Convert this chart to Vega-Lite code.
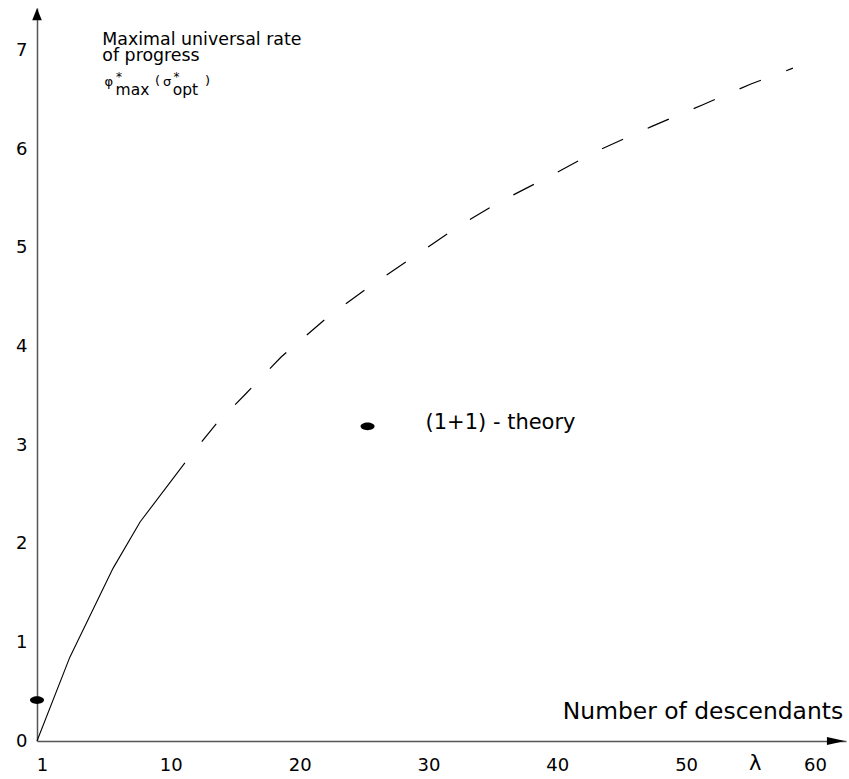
{
  "$schema": "https://vega.github.io/schema/vega-lite/v6.json",
  "autosize": "none",
  "padding": {"left": 37, "top": 8, "right": 3, "bottom": 38},
  "width": 809,
  "height": 733,
  "background": "white",
  "config": {"view": {"stroke": null}},
  "datasets": {
    "solid": [
      {"x": 0, "y": 0},
      {"x": 2.55, "y": 0.85},
      {"x": 5.9, "y": 1.75},
      {"x": 8.0, "y": 2.22},
      {"x": 11.48, "y": 2.82}
    ],
    "dashed": [
      {"x": 11.48, "y": 2.82},
      {"x": 13.88, "y": 3.21},
      {"x": 16.21, "y": 3.52},
      {"x": 18.93, "y": 3.89},
      {"x": 22.5, "y": 4.29},
      {"x": 25.84, "y": 4.61},
      {"x": 29.26, "y": 4.91},
      {"x": 32.52, "y": 5.2},
      {"x": 35.7, "y": 5.45},
      {"x": 39.73, "y": 5.72},
      {"x": 43.46, "y": 5.98},
      {"x": 47.73, "y": 6.23},
      {"x": 51.69, "y": 6.45},
      {"x": 55.42, "y": 6.66},
      {"x": 58.68, "y": 6.82}
    ],
    "dots": [
      {"x": 0, "y": 0.415},
      {"x": 25.66, "y": 3.19}
    ],
    "xticks": [{"x": 10}, {"x": 20}, {"x": 30}, {"x": 40}, {"x": 50}],
    "yticks": [{"y": 0}, {"y": 1}, {"y": 2}, {"y": 3}, {"y": 4}, {"y": 5}, {"y": 6}]
  },
  "encoding": {
    "x": {
      "field": "x", "type": "quantitative",
      "scale": {"domain": [0, 62.8], "nice": false, "zero": false},
      "axis": {
        "title": null, "grid": false,
        "values": [0, 10, 20, 30, 40, 50, 60],
        "labelExpr": "datum.value == 0 ? '1' : datum.label",
        "tickSize": -9,
        "tickOpacity": 0,
        "domainColor": "#555", "domainWidth": 1.5,
        "labelFont": "DejaVu Sans", "labelFontSize": 18, "labelColor": "black",
        "labelPadding": 24, "labelOffset": 5, "labelFlush": false, "labelOverlap": false
      }
    },
    "y": {
      "field": "y", "type": "quantitative",
      "scale": {"domain": [0, 7.43], "nice": false, "zero": false},
      "axis": {
        "title": null, "grid": false,
        "values": [0, 1, 2, 3, 4, 5, 6, 7],
        "tickSize": -13,
        "tickOpacity": 0,
        "domainColor": "#555", "domainWidth": 1.5,
        "labelFont": "DejaVu Sans", "labelFontSize": 18, "labelColor": "black",
        "labelPadding": 23, "labelFlush": false, "labelOverlap": false
      }
    }
  },
  "layer": [
    {
      "data": {"name": "xticks"},
      "mark": {"type": "rule", "color": "#111", "strokeWidth": 1.5},
      "encoding": {"y": {"datum": 0}, "y2": {"datum": 0.0912}}
    },
    {
      "data": {"name": "yticks"},
      "mark": {"type": "rule", "color": "#666", "strokeWidth": 1.5},
      "encoding": {"x": {"datum": 0}, "x2": {"datum": 1.01}}
    },
    {
      "data": {"name": "solid"},
      "mark": {"type": "line", "color": "black", "strokeWidth": 1.1}
    },
    {
      "data": {"name": "dashed"},
      "mark": {"type": "line", "color": "black", "strokeWidth": 1.2, "strokeDash": [23, 27], "strokeDashOffset": 23}
    },
    {
      "data": {"name": "dots"},
      "mark": {"type": "point", "filled": true, "color": "black", "opacity": 1, "size": 196,
               "shape": "M-1,0A1,0.55,0,1,1,1,0A1,0.55,0,1,1,-1,0Z"}
    },
    {
      "data": {"values": [{"x": 62.02, "y": 0}]},
      "mark": {"type": "point", "filled": true, "color": "black", "opacity": 1, "size": 324,
               "shape": "M-1,-0.45L1,0L-1,0.45Z"}
    },
    {
      "data": {"values": [{"x": 0, "y": 7.366}]},
      "mark": {"type": "point", "filled": true, "color": "black", "opacity": 1, "size": 144,
               "shape": "M-0.8,1L0,-1L0.8,1Z"}
    },
    {
      "data": {"values": [
        {"label": "Maximal universal rate", "x": 5.07, "y": 7.055},
        {"label": "of progress", "x": 5.07, "y": 6.893}
      ]},
      "mark": {"type": "text", "align": "left", "baseline": "alphabetic", "font": "DejaVu Sans", "fontSize": 17.4, "color": "black"},
      "encoding": {"text": {"field": "label"}}
    },
    {
      "data": {"values": [
        {"label": "φ", "x": 5.24, "y": 6.64},
        {"label": "(", "x": 9.16, "y": 6.65},
        {"label": "σ", "x": 9.78, "y": 6.64},
        {"label": ")", "x": 13.04, "y": 6.65}
      ]},
      "mark": {"type": "text", "align": "left", "baseline": "alphabetic", "font": "DejaVu Sans", "fontSize": 13, "color": "black"},
      "encoding": {"text": {"field": "label"}}
    },
    {
      "data": {"values": [
        {"label": "*", "x": 6.13, "y": 6.69},
        {"label": "*", "x": 10.6, "y": 6.69}
      ]},
      "mark": {"type": "text", "align": "left", "baseline": "alphabetic", "font": "DejaVu Sans", "fontSize": 12, "color": "black"},
      "encoding": {"text": {"field": "label"}}
    },
    {
      "data": {"values": [
        {"label": "max", "x": 6.1, "y": 6.55},
        {"label": "opt", "x": 10.54, "y": 6.55}
      ]},
      "mark": {"type": "text", "align": "left", "baseline": "alphabetic", "font": "DejaVu Sans", "fontSize": 15.5, "color": "black"},
      "encoding": {"text": {"field": "label"}}
    },
    {
      "data": {"values": [
        {"label": "(1+1) - theory", "x": 30.16, "y": 3.16}
      ]},
      "mark": {"type": "text", "align": "left", "baseline": "alphabetic", "font": "DejaVu Sans", "fontSize": 21, "color": "black"},
      "encoding": {"text": {"field": "label"}}
    },
    {
      "data": {"values": [
        {"label": "Number of descendants", "x": 40.82, "y": 0.223}
      ]},
      "mark": {"type": "text", "align": "left", "baseline": "alphabetic", "font": "DejaVu Sans", "fontSize": 23.4, "color": "black"},
      "encoding": {"text": {"field": "label"}}
    },
    {
      "data": {"values": [
        {"label": "λ", "x": 55.75, "y": -0.294}
      ]},
      "mark": {"type": "text", "align": "center", "baseline": "alphabetic", "font": "DejaVu Sans", "fontSize": 21, "color": "black"},
      "encoding": {"text": {"field": "label"}}
    }
  ]
}
